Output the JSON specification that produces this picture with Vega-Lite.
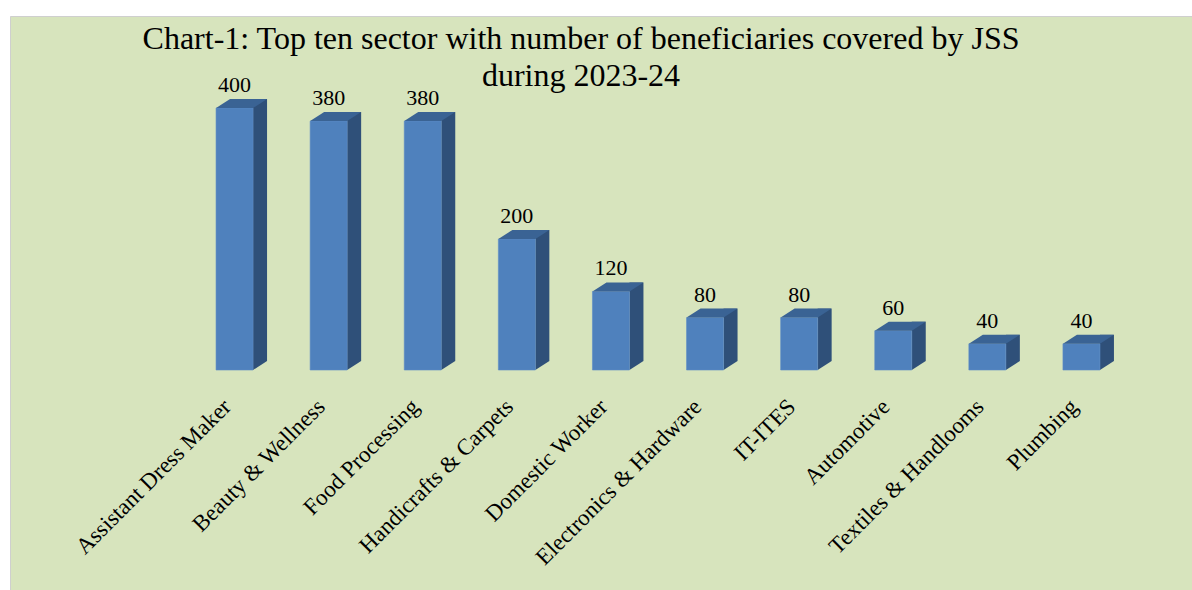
{
  "$schema": "https://vega.github.io/schema/vega-lite/v6.json",
  "width": 1182,
  "height": 574,
  "autosize": {"type": "none"},
  "padding": {"left": 10, "top": 16, "right": 0, "bottom": 0},
  "background": "#ffffff",
  "config": {
    "view": {"fill": "#d7e4bd", "stroke": "#cfcfcf", "strokeWidth": 1},
    "font": "Liberation Serif"
  },
  "title": {
    "text": ["Chart-1: Top ten sector with number of beneficiaries  covered by JSS", "during 2023-24"],
    "font": "Liberation Serif",
    "fontSize": 32,
    "fontWeight": "normal",
    "color": "#000000",
    "anchor": "middle",
    "frame": "group",
    "dx": -20,
    "offset": -77,
    "lineHeight": 37
  },
  "data": {
    "values": [
      {"sector": "Assistant Dress Maker", "value": 400},
      {"sector": "Beauty & Wellness", "value": 380},
      {"sector": "Food Processing", "value": 380},
      {"sector": "Handicrafts & Carpets", "value": 200},
      {"sector": "Domestic Worker", "value": 120},
      {"sector": "Electronics & Hardware", "value": 80},
      {"sector": "IT-ITES", "value": 80},
      {"sector": "Automotive", "value": 60},
      {"sector": "Textiles & Handlooms", "value": 40},
      {"sector": "Plumbing", "value": 40}
    ]
  },
  "encoding": {
    "x": {
      "field": "sector",
      "type": "nominal",
      "sort": null,
      "scale": {"paddingInner": 0, "paddingOuter": 0, "range": [177.5, 1118.5]},
      "axis": {
        "title": null,
        "labelAngle": -45,
        "labelFontSize": 23,
        "labelFont": "Liberation Serif",
        "labelColor": "#000000",
        "labelAlign": "right",
        "labelBaseline": "top",
        "labelPadding": 25,
        "labelOffset": -15,
        "labelOverlap": false,
        "labelLimit": 0,
        "domain": false,
        "ticks": false,
        "grid": false,
        "offset": -220
      }
    }
  },
  "layer": [
    {
      "mark": {"type": "bar", "size": 14, "xOffset": 25.5, "yOffset": -9, "y2Offset": -9, "color": "#2f5079"},
      "encoding": {
        "y": {"field": "value", "type": "quantitative", "scale": {"domain": [-335.9, 540.5], "nice": false, "zero": false}, "axis": null},
        "y2": {"datum": 0}
      }
    },
    {
      "mark": {"type": "point", "shape": "M18.5,-9 L32.5,-9 L18.5,0 Z", "size": 4, "filled": true, "opacity": 1, "color": "#2f5079", "strokeWidth": 0},
      "encoding": {
        "y": {"datum": 0, "type": "quantitative"}
      }
    },
    {
      "mark": {"type": "bar", "size": 37, "color": "#4f81bd", "stroke": "#5d8cc6", "strokeWidth": 0.6},
      "encoding": {
        "y": {"field": "value", "type": "quantitative"},
        "y2": {"datum": 0}
      }
    },
    {
      "mark": {"type": "point", "shape": "M-18.5,0 L18.5,0 L32.5,-9 L-4.5,-9 Z", "size": 4, "filled": true, "opacity": 1, "color": "#3a6394", "strokeWidth": 0},
      "encoding": {
        "y": {"field": "value", "type": "quantitative"}
      }
    },
    {
      "mark": {"type": "text", "yOffset": -16, "baseline": "alphabetic", "fontSize": 22, "font": "Liberation Serif", "color": "#000000"},
      "encoding": {
        "y": {"field": "value", "type": "quantitative"},
        "text": {"field": "value", "type": "quantitative"}
      }
    }
  ]
}
